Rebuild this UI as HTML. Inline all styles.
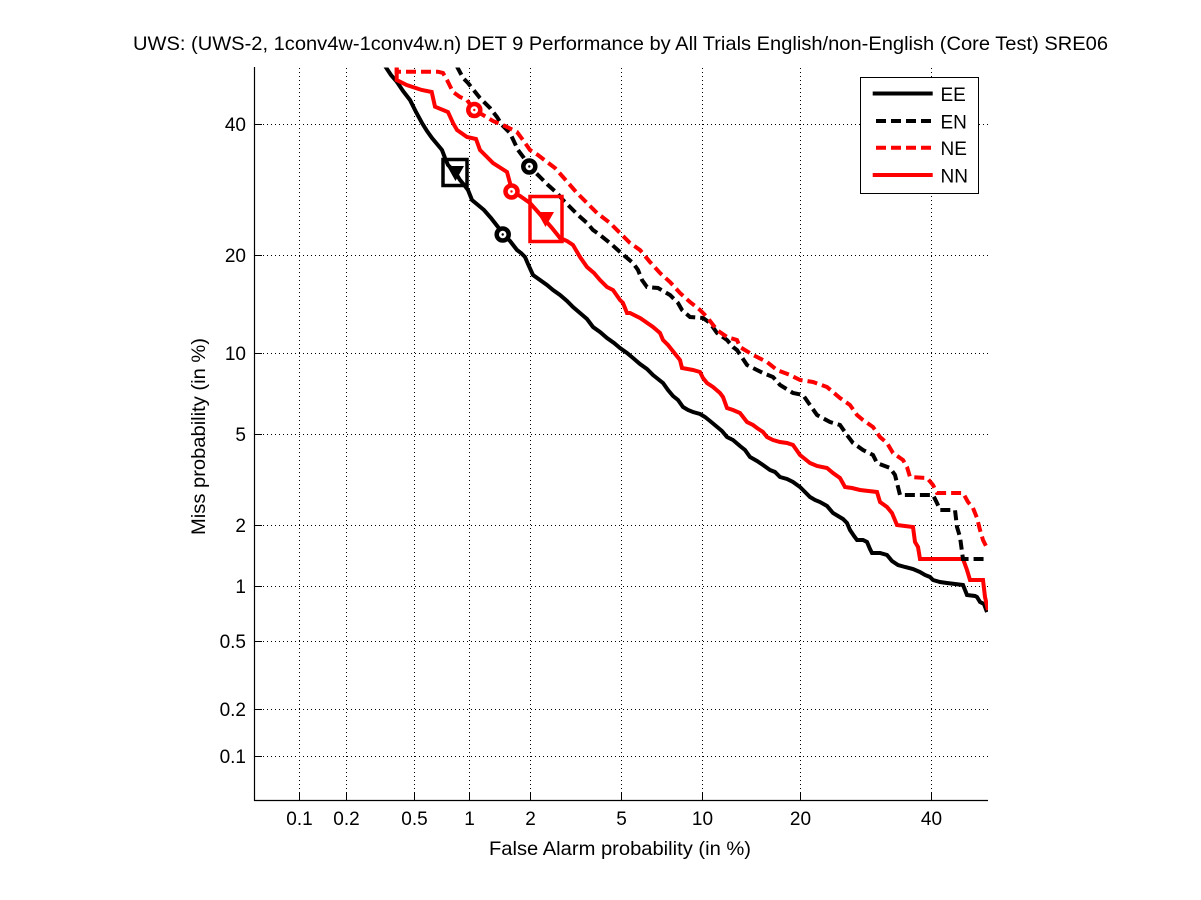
<!DOCTYPE html>
<html>
<head>
<meta charset="utf-8">
<style>
  html, body { margin: 0; padding: 0; background: #ffffff; }
  svg { display: block; }
  text { font-family: "Liberation Sans", Arial, Helvetica, sans-serif; fill: #000; }
</style>
</head>
<body>
<svg width="1201" height="900" viewBox="0 0 1201 900" xmlns="http://www.w3.org/2000/svg">
  <rect x="0" y="0" width="1201" height="900" fill="#ffffff"/>
  <defs>
    <clipPath id="ax">
      <rect x="254.5" y="67.5" width="733.5" height="733"/>
    </clipPath>
  </defs>

  <!-- grid: vertical -->
  <g stroke="#000" stroke-width="1" stroke-dasharray="1 3" fill="none">
    <line x1="299.5" y1="68" x2="299.5" y2="800"/>
    <line x1="346.5" y1="68" x2="346.5" y2="800"/>
    <line x1="414.5" y1="68" x2="414.5" y2="800"/>
    <line x1="469.5" y1="68" x2="469.5" y2="800"/>
    <line x1="530.5" y1="68" x2="530.5" y2="800"/>
    <line x1="621.5" y1="68" x2="621.5" y2="800"/>
    <line x1="702.5" y1="68" x2="702.5" y2="800"/>
    <line x1="800.5" y1="68" x2="800.5" y2="800"/>
    <line x1="931.5" y1="68" x2="931.5" y2="800"/>
    <!-- horizontal -->
    <line x1="255" y1="756.5" x2="988" y2="756.5"/>
    <line x1="255" y1="709.5" x2="988" y2="709.5"/>
    <line x1="255" y1="641.5" x2="988" y2="641.5"/>
    <line x1="255" y1="586.5" x2="988" y2="586.5"/>
    <line x1="255" y1="525.5" x2="988" y2="525.5"/>
    <line x1="255" y1="434.5" x2="988" y2="434.5"/>
    <line x1="255" y1="353.5" x2="988" y2="353.5"/>
    <line x1="255" y1="255.5" x2="988" y2="255.5"/>
    <line x1="255" y1="124.5" x2="988" y2="124.5"/>
  </g>

  <!-- axes lines -->
  <g stroke="#000" stroke-width="1.2" fill="none">
    <line x1="254.5" y1="67" x2="254.5" y2="801"/>
    <line x1="254" y1="800.5" x2="988" y2="800.5"/>
  </g>
  <!-- tick marks -->
  <g stroke="#000" stroke-width="1" fill="none">
    <line x1="299.5" y1="801" x2="299.5" y2="793"/>
    <line x1="346.5" y1="801" x2="346.5" y2="793"/>
    <line x1="414.5" y1="801" x2="414.5" y2="793"/>
    <line x1="469.5" y1="801" x2="469.5" y2="793"/>
    <line x1="530.5" y1="801" x2="530.5" y2="793"/>
    <line x1="621.5" y1="801" x2="621.5" y2="793"/>
    <line x1="702.5" y1="801" x2="702.5" y2="793"/>
    <line x1="800.5" y1="801" x2="800.5" y2="793"/>
    <line x1="931.5" y1="801" x2="931.5" y2="793"/>
    <line x1="254" y1="756.5" x2="262" y2="756.5"/>
    <line x1="254" y1="709.5" x2="262" y2="709.5"/>
    <line x1="254" y1="641.5" x2="262" y2="641.5"/>
    <line x1="254" y1="586.5" x2="262" y2="586.5"/>
    <line x1="254" y1="525.5" x2="262" y2="525.5"/>
    <line x1="254" y1="434.5" x2="262" y2="434.5"/>
    <line x1="254" y1="353.5" x2="262" y2="353.5"/>
    <line x1="254" y1="255.5" x2="262" y2="255.5"/>
    <line x1="254" y1="124.5" x2="262" y2="124.5"/>
  </g>

  <!-- x tick labels -->
  <g font-size="19" text-anchor="middle">
    <text x="299.5" y="825">0.1</text>
    <text x="346.5" y="825">0.2</text>
    <text x="414.5" y="825">0.5</text>
    <text x="469.5" y="825">1</text>
    <text x="530.5" y="825">2</text>
    <text x="621.5" y="825">5</text>
    <text x="702.5" y="825">10</text>
    <text x="800.5" y="825">20</text>
    <text x="931.5" y="825">40</text>
  </g>
  <!-- y tick labels -->
  <g font-size="19" text-anchor="end">
    <text x="246" y="763">0.1</text>
    <text x="246" y="716">0.2</text>
    <text x="246" y="648">0.5</text>
    <text x="246" y="593">1</text>
    <text x="246" y="532">2</text>
    <text x="246" y="441">5</text>
    <text x="246" y="360">10</text>
    <text x="246" y="262">20</text>
    <text x="246" y="131">40</text>
  </g>

  <!-- title and axis labels -->
  <text x="133" y="50" font-size="19.5" textLength="975" lengthAdjust="spacingAndGlyphs">UWS: (UWS-2, 1conv4w-1conv4w.n) DET 9 Performance by All Trials English/non-English (Core Test) SRE06</text>
  <text x="489" y="855" font-size="19.5" textLength="262" lengthAdjust="spacingAndGlyphs">False Alarm probability (in %)</text>
  <text transform="translate(205,535) rotate(-90)" x="0" y="0" font-size="19.5" textLength="197" lengthAdjust="spacingAndGlyphs">Miss probability (in %)</text>

  <!-- curves -->
  <g clip-path="url(#ax)" fill="none" stroke-width="4" stroke-linejoin="miter" stroke-linecap="butt">
    <!-- EE black solid -->
    <polyline stroke="#000" points="385,66 391,75 397,82 403,91 410,100 416,112 422,123 427,131 432,138 437,144 442,150 445,158 448,165 455,172 460,180 465,186 468,190 472,200 478,205 484,210 491,218 498,227 503,234 510,241 517,250 521,253 525,257 528,264 533,275 540,280 547,285 553,290 560,295 567,301 573,307 580,313 587,319 593,327 600,332 607,338 614,343 620,348 627,353 633,358 640,364 647,369 653,375 658,379 663,383 668,390 673,396 678,400 683,407 688,410 693,412 700,414 705,417 710,421 716,426 722,431 727,437 733,440 740,446 745,450 750,457 757,461 763,465 770,470 775,472 780,477 787,479 793,482 800,487 805,492 810,497 815,500 820,502 827,506 833,513 838,516 843,519 847,523 850,530 854,536 857,540 863,540 867,542 870,549 872,553 880,553 887,555 892,561 898,565 905,567 913,569 920,572 925,575 930,577 933,580 940,582 947,583 955,584 963,585 965,590 967,595 975,596 977,597 980,602 984,604 987,612"/>
    <!-- NN red solid -->
    <polyline stroke="#ff0000" points="396.7,66 396.7,80 406.7,85 421.7,90 431.7,92 435,106.7 448,112 453,123 457,130 467,137 476,139 480,150 487,157 493,163 507,172 510,183 512,191.7 520,196 530,203 538,212 545,220 552,228 560,238 567,241 573,245 580,257 587,267 594,273 600,280 607,287 613,290 620,300 623,303 627,313 630,313 640,318 643,320 653,327 660,333 663,340 668,345 672,350 680,360 682,368 693,370 700,372 703,378 707,383 713,387 720,393 723,397 727,408 733,410 740,413 747,422 753,425 757,428 763,432 767,437 773,440 780,442 787,443 793,445 800,455 805,459 810,463 817,466 827,468 833,473 840,478 845,487 852,488 860,490 877,492 880,502 887,507 892,513 897,525 913,527 915,542 918,547 920,559 963,559 967,570 970,580 983,580 985,597 988,610"/>
    <!-- EN black dashed -->
    <polyline stroke="#000" stroke-dasharray="10 5" points="456.7,66 463,78 468,83 480,98 490,108 497,117 502,125 510,133 518,150 524,158 529,166 535,172 540,177 548,185 557,193 563,200 570,207 578,215 587,223 593,230 600,235 610,243 620,252 633,263 638,270 642,280 647,287 658,288 670,295 678,303 682,310 690,317 703,318 710,323 717,333 727,340 733,347 737,350 747,365 763,373 773,377 780,385 793,393 803,395 810,405 817,415 830,422 840,425 847,435 853,443 863,450 873,455 877,463 890,468 895,475 897,483 900,495 933,495 937,503 940,510 955,510 957,527 960,537 963,559 988,559"/>
    <!-- NE red dashed -->
    <polyline stroke="#ff0000" stroke-dasharray="10 5" points="396.7,66 396.7,71.7 438,71.7 443,73 447,80 453,92 460,97 467,100 474,110 483,115 493,121 505,126 517,132 523,140 530,150 538,155 547,162 555,168 563,177 570,185 577,193 587,203 597,213 610,223 620,233 630,243 640,250 650,262 660,273 670,282 680,293 690,302 700,310 707,317 717,330 727,337 737,340 740,347 753,355 767,362 777,370 790,375 800,380 813,382 827,387 840,398 850,405 857,415 863,420 873,427 880,437 887,443 893,453 903,460 907,467 910,477 927,478 933,485 937,493 963,493 968,502 973,508 977,518 980,530 983,540 987,548"/>
  </g>

  <!-- markers -->
  <!-- black square + triangle on EE -->
  <rect x="443" y="159.5" width="24" height="26" fill="none" stroke="#000" stroke-width="3.5"/>
  <polygon points="447,166 464,166 455.5,181" fill="#000"/>
  <!-- red rectangle + triangle on NN -->
  <rect x="530" y="196.5" width="32" height="45" fill="none" stroke="#ff0000" stroke-width="3.5"/>
  <polygon points="537,212 554,212 545.5,227" fill="#ff0000"/>
  <!-- circles -->
  <circle cx="502.7" cy="234.5" r="6" fill="#fff" stroke="#000" stroke-width="4.5"/>
  <circle cx="502.7" cy="234.5" r="1.2" fill="#000"/>
  <circle cx="529.3" cy="166.5" r="6" fill="#fff" stroke="#000" stroke-width="4.5"/>
  <circle cx="529.3" cy="166.5" r="1.2" fill="#000"/>
  <circle cx="474.3" cy="110" r="6" fill="#fff" stroke="#ff0000" stroke-width="4.5"/>
  <circle cx="474.3" cy="110" r="1.2" fill="#ff0000"/>
  <circle cx="511.5" cy="191.5" r="6" fill="#fff" stroke="#ff0000" stroke-width="4.5"/>
  <circle cx="511.5" cy="191.5" r="1.2" fill="#ff0000"/>

  <!-- legend -->
  <rect x="860.5" y="77.5" width="118" height="116" fill="#ffffff" stroke="#000" stroke-width="1"/>
  <g stroke-width="4" fill="none">
    <line x1="872.7" y1="93.5" x2="932.7" y2="93.5" stroke="#000"/>
    <line x1="876" y1="121" x2="932.7" y2="121" stroke="#000" stroke-dasharray="10 5"/>
    <line x1="876" y1="147.7" x2="932.7" y2="147.7" stroke="#ff0000" stroke-dasharray="10 5"/>
    <line x1="872.7" y1="175" x2="932.7" y2="175" stroke="#ff0000"/>
  </g>
  <g font-size="19">
    <text x="940.5" y="101">EE</text>
    <text x="940.5" y="128.5">EN</text>
    <text x="940.5" y="155">NE</text>
    <text x="940.5" y="182.5">NN</text>
  </g>
</svg>
</body>
</html>
